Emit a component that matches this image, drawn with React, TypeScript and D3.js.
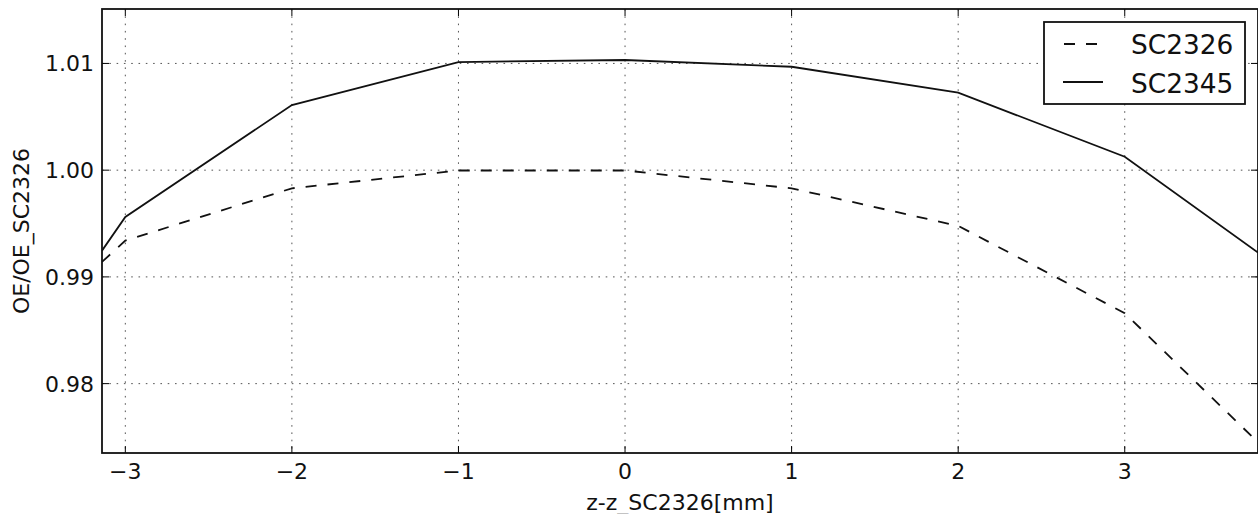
import React from "react";
import * as d3 from "d3";

const xValues = [-3.14, -3, -2, -1, 0, 1, 2, 3, 3.8];
const sc2326 = [0.9914, 0.9934, 0.9983, 0.99997, 0.99997, 0.9983, 0.99478, 0.9866, 0.9745];
const sc2345 = [0.99246, 0.99562, 1.0061, 1.01013, 1.01032, 1.00969, 1.00726, 1.00126, 0.99228];
const xTicks = [-3, -2, -1, 0, 1, 2, 3];
const yTicks = [0.98, 0.99, 1.0, 1.01];
const seriesNames = ["SC2326", "SC2345"];
const xLabel = "z-z_SC2326[mm]";
const yLabel = "OE/OE_SC2326";

const W = 1258;
const H = 514;
const L = 102;
const R = 1258;
const T = 9;
const B = 453;
const FONT = "DejaVu Sans, sans-serif";

export default function App() {
  const x = d3.scaleLinear().domain([-3.14, 3.8]).range([L, R]);
  const y = d3.scaleLinear().domain([0.9735, 1.0151]).range([B, T]);
  const line = d3
    .line<number>()
    .x((_, i) => x(xValues[i]))
    .y((d) => y(d));
  const fmtX = (v: number) => (v < 0 ? "\u2212" + Math.abs(v) : String(v));
  const fmtY = (v: number) => v.toFixed(2);
  const tickLen = 7;

  return (
    <svg
      width={W}
      height={H}
      style={{ position: "absolute", left: 0, top: 0, background: "#fff" }}
      fontFamily={FONT}
    >
      <defs>
        <clipPath id="plotclip">
          <rect x={L} y={T} width={R - L} height={B - T} />
        </clipPath>
      </defs>
      <rect x={0} y={0} width={W} height={H} fill="#fff" />
      {/* grid */}
      <g stroke="#555" strokeWidth={1} strokeDasharray="1.6,5.7">
        {xTicks.map((t) => (
          <line key={"gx" + t} x1={x(t)} x2={x(t)} y1={T} y2={B} />
        ))}
        {yTicks.map((t) => (
          <line key={"gy" + t} x1={L} x2={R} y1={y(t)} y2={y(t)} />
        ))}
      </g>
      {/* lines */}
      <g clipPath="url(#plotclip)" fill="none" stroke="#111" strokeWidth={1.8}>
        <path d={line(sc2326) || ""} strokeDasharray="11,11" />
        <path d={line(sc2345) || ""} />
      </g>
      {/* ticks */}
      <g stroke="#000" strokeWidth={1}>
        {xTicks.map((t) => (
          <g key={"tx" + t}>
            <line x1={x(t)} x2={x(t)} y1={B} y2={B - tickLen} />
            <line x1={x(t)} x2={x(t)} y1={T} y2={T + tickLen} />
          </g>
        ))}
        {yTicks.map((t) => (
          <g key={"ty" + t}>
            <line x1={L} x2={L + tickLen} y1={y(t)} y2={y(t)} />
            <line x1={R} x2={R - tickLen} y1={y(t)} y2={y(t)} />
          </g>
        ))}
      </g>
      {/* frame */}
      <rect x={L} y={T} width={R - L} height={B - T} fill="none" stroke="#111" strokeWidth={1.8} />
      {/* tick labels */}
      <g fontSize={22} fill="#111">
        {xTicks.map((t) => (
          <text key={"lx" + t} x={x(t)} y={479} textAnchor="middle">
            {fmtX(t)}
          </text>
        ))}
        {yTicks.map((t) => (
          <text key={"ly" + t} x={94} y={y(t) + 8} textAnchor="end">
            {fmtY(t)}
          </text>
        ))}
      </g>
      {/* axis labels */}
      <text x={(L + R) / 2} y={510} textAnchor="middle" fontSize={22} fill="#111">
        {xLabel}
      </text>
      <text
        transform={`translate(29,${(T + B) / 2}) rotate(-90)`}
        textAnchor="middle"
        fontSize={22}
        fill="#111"
      >
        {yLabel}
      </text>
      {/* legend */}
      <g>
        <rect x={1044} y={22} width={201} height={82} fill="#fff" stroke="#111" strokeWidth={1.8} />
        <line x1={1063} x2={1103} y1={44} y2={44} stroke="#111" strokeWidth={1.8} strokeDasharray="11,11" strokeDashoffset={-1} />
        <line x1={1063} x2={1103} y1={82} y2={82} stroke="#111" strokeWidth={1.8} />
        <text x={1131} y={54} fontSize={26.4} fill="#111">
          {seriesNames[0]}
        </text>
        <text x={1131} y={93} fontSize={26.4} fill="#111">
          {seriesNames[1]}
        </text>
      </g>
    </svg>
  );
}
